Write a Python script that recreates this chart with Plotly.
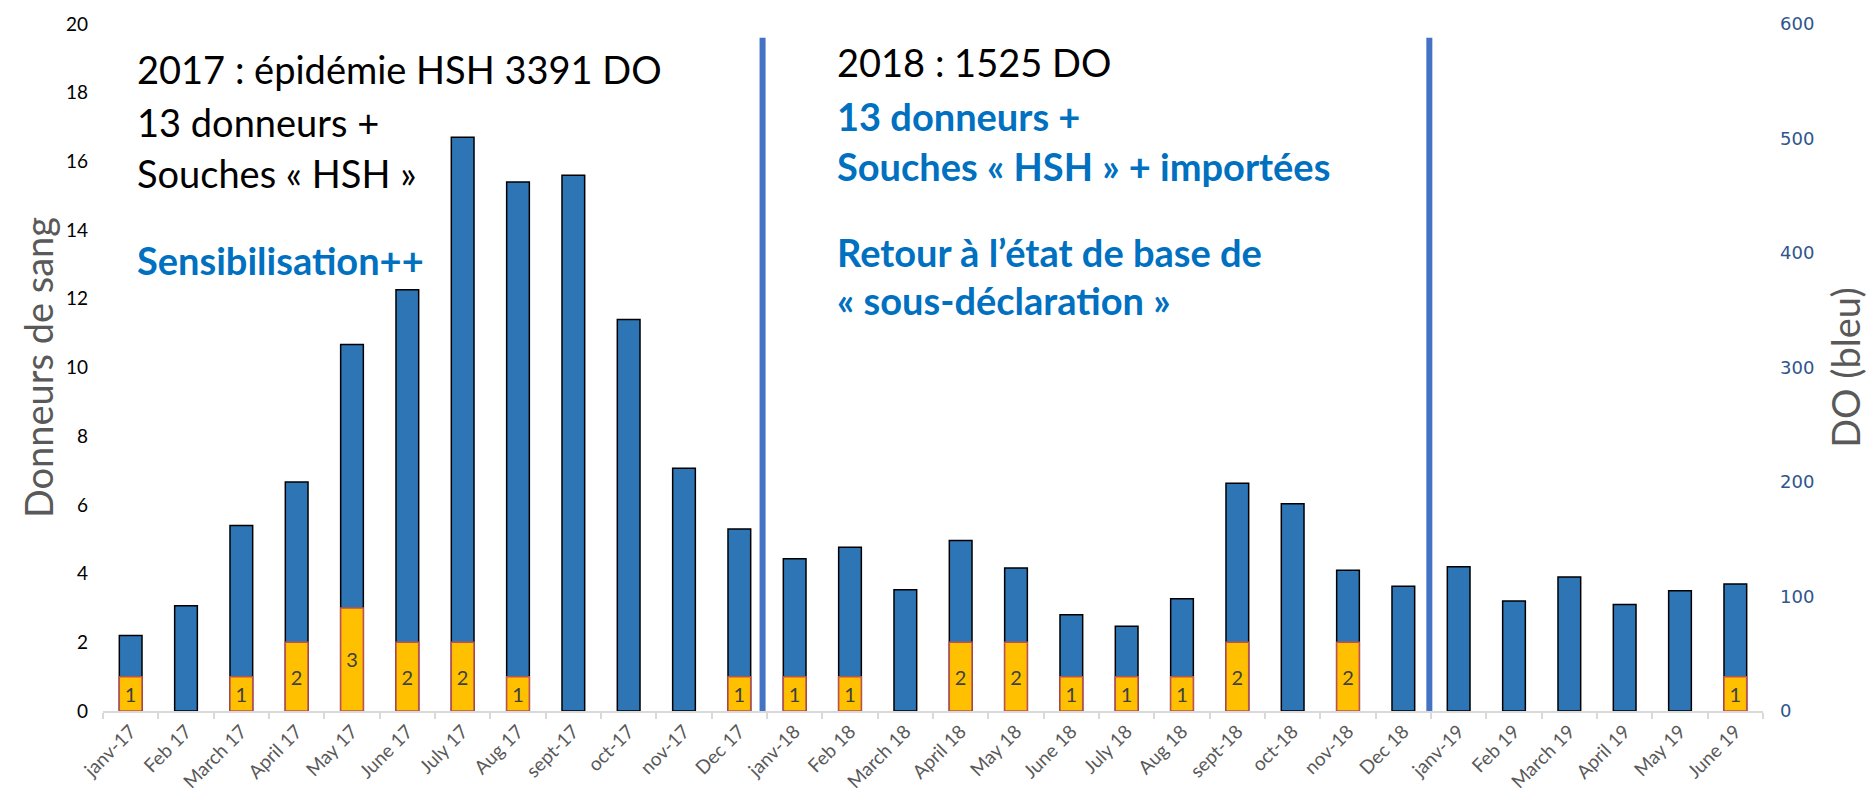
import plotly.graph_objects as go

months = ["janv-17", "Feb 17", "March 17", "April 17", "May 17", "June 17", "July 17", "Aug 17",
          "sept-17", "oct-17", "nov-17", "Dec 17", "janv-18", "Feb 18", "March 18", "April 18",
          "May 18", "June 18", "July 18", "Aug 18", "sept-18", "oct-18", "nov-18", "Dec 18",
          "janv-19", "Feb 19", "March 19", "April 19", "May 19", "June 19"]

do_counts = [66, 92, 162, 200, 320, 368, 501, 462, 468, 342, 212, 159,
             133, 143, 106, 149, 125, 84, 74, 98, 199, 181, 123, 109,
             126, 96, 117, 93, 105, 111]

donors = [1, 0, 1, 2, 3, 2, 2, 1, 0, 0, 0, 1,
          1, 1, 0, 2, 2, 1, 1, 1, 2, 0, 2, 0,
          0, 0, 0, 0, 0, 1]

left_ticks = list(range(0, 21, 2))
right_ticks = list(range(0, 601, 100))

FONT = "Lato"
W, H = 1870, 795
L, R, T, B = 103, 107, 24, 84
PW, PH = W - L - R, H - T - B

def px(x):
    return (x - L) / PW

def py(y):
    return (H - B - y) / PH

fig = go.Figure()

fig.add_trace(go.Bar(
    x=months, y=do_counts, yaxis="y",
    marker=dict(color="#2E75B6", line=dict(color="#000000", width=1.5)),
    width=0.41, name="DO", showlegend=False, hoverinfo="x+y",
))

donor_vals = [d if d > 0 else None for d in donors]
donor_text = [str(d) if d > 0 else "" for d in donors]
fig.add_trace(go.Bar(
    x=months, y=donor_vals, yaxis="y2",
    marker=dict(color="#FFC000", line=dict(color="#C0504D", width=1.5)),
    width=0.41, text=donor_text, textposition="inside", insidetextanchor="middle",
    textangle=0, constraintext="none",
    textfont=dict(family=FONT, size=20, color="#404040"),
    name="Donneurs", showlegend=False, hoverinfo="x+y",
))

# vertical separators (in left-axis units)
for xpos in [11.42, 23.47]:
    fig.add_shape(type="line", xref="x", yref="y2", x0=xpos, x1=xpos, y0=0, y1=19.6,
                  line=dict(color="#4472C4", width=6))

black = "#000000"
blue = "#0070C0"
ann = [
    (135, 69, "2017 : épidémie HSH 3391 DO", black),
    (135, 122, "13 donneurs +", black),
    (135, 173, "Souches « HSH »", black),
    (135, 260, "<b>Sensibilisation++</b>", blue),
    (835, 62, "2018 : 1525 DO", black),
    (835, 116, "<b>13 donneurs +</b>", blue),
    (835, 166, "<b>Souches « HSH » + importées</b>", blue),
    (835, 252, "<b>Retour à l’état de base de</b>", blue),
    (835, 300, "<b>« sous-déclaration »</b>", blue),
]
for x, y, t, c in ann:
    fig.add_annotation(x=px(x), y=py(y), xref="paper", yref="paper", text=t,
                       showarrow=False, xanchor="left", yanchor="middle",
                       font=dict(family=FONT, size=38, color=c))

fig.update_layout(
    width=W, height=H,
    margin=dict(l=L, r=R, t=T, b=B),
    paper_bgcolor="white", plot_bgcolor="white",
    barmode="overlay",
    xaxis=dict(
        type="category", tickangle=-45, automargin=False,
        tickfont=dict(family=FONT, size=19, color="#595959"),
        showline=True, linecolor="#D9D9D9", linewidth=2,
        ticks="outside", tickson="boundaries", ticklen=6, tickcolor="#D9D9D9", tickwidth=1.5,
        showgrid=False, range=[-0.5, 29.5],
    ),
    yaxis=dict(
        side="right", range=[0, 600], tickvals=right_ticks, automargin=False,
        tickfont=dict(family="DejaVu Sans", size=18, color="#2E558E"),
        ticklabelstandoff=16,
        showgrid=False, zeroline=False, showline=False, ticks="",
        title=dict(text="DO (bleu)", font=dict(family=FONT, size=38, color="#595959"), standoff=20),
    ),
    yaxis2=dict(
        side="left", overlaying="y", range=[0, 20], tickvals=left_ticks, automargin=False,
        tickfont=dict(family=FONT, size=19, color="#000000"),
        ticklabelstandoff=14,
        showgrid=False, zeroline=False, showline=False, ticks="",
        title=dict(text="Donneurs de sang", font=dict(family=FONT, size=38, color="#595959"), standoff=0),
    ),
)

fig.write_html("out.html", config={"displayModeBar": False},
               post_script="document.body.style.margin='0';document.body.style.padding='0';")
